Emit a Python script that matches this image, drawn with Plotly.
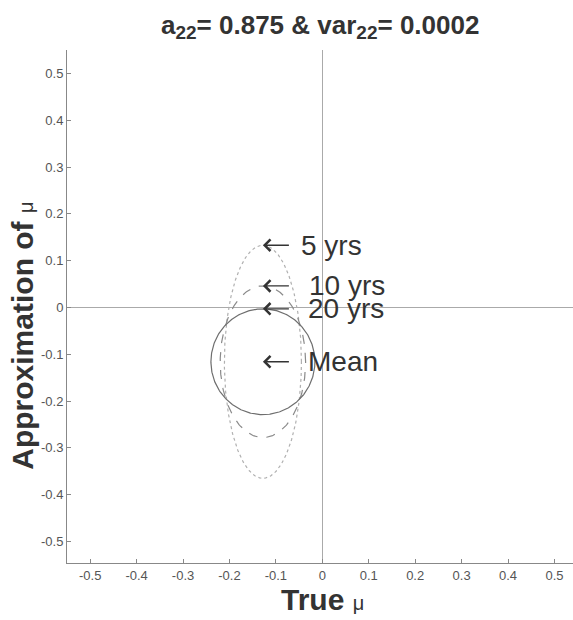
import numpy as np
import plotly.graph_objects as go

# Data
horizons = ["5 yrs", "10 yrs", "20 yrs"]
center_x = -0.128
center_y = -0.116
semi_x = [0.083, 0.092, 0.112]
semi_y = [0.249, 0.162, 0.113]
line_dash = ["dot", "dash", "solid"]
line_color = ["#b0b0b0", "#8a8a8a", "#6e6e6e"]
label_shift = [37, 45, 44]
arrow_gap = [11, 19, 18]
mean_label = "Mean"

x_ticks = [-0.5, -0.4, -0.3, -0.2, -0.1, 0, 0.1, 0.2, 0.3, 0.4, 0.5]
y_ticks = [-0.5, -0.4, -0.3, -0.2, -0.1, 0, 0.1, 0.2, 0.3, 0.4, 0.5]
tick_text = ["-0.5", "-0.4", "-0.3", "-0.2", "-0.1", "0", "0.1", "0.2", "0.3", "0.4", "0.5"]

FONT = "Liberation Sans, Arial, sans-serif"

fig = go.Figure()
t = np.linspace(0, 2 * np.pi, 361)
for i, h in enumerate(horizons):
    fig.add_trace(go.Scatter(
        x=center_x + semi_x[i] * np.cos(t),
        y=center_y + semi_y[i] * np.sin(t),
        mode="lines",
        line=dict(color=line_color[i], width=1.2, dash=line_dash[i]),
        hoverinfo="skip", showlegend=False))

afont = dict(family=FONT, size=28, color="#333333")
anns = []
labels = horizons + [mean_label]
tops = [center_y + s for s in semi_y] + [center_y]
shifts = label_shift + [44]
gaps = arrow_gap + [18]
for lab, ytop, sh, gp in zip(labels, tops, shifts, gaps):
    anns.append(dict(x=center_x, y=ytop, xref="x", yref="y", text=lab,
                     showarrow=True, ax=sh, ay=0, axref="pixel", ayref="pixel",
                     xanchor="left", yanchor="middle", font=afont, borderpad=0,
                     arrowhead=4, arrowsize=1.6, arrowwidth=1.4, arrowcolor="#333333",
                     startstandoff=gp, standoff=0))

# axis titles
anns.append(dict(x=-0.087, y=0.443, xref="paper", yref="paper", textangle=-90,
                 text="<b>Approximation of </b><span style='font-size:20px'>μ</span>",
                 showarrow=False, xanchor="center", yanchor="middle",
                 font=dict(family=FONT, size=30, color="#333333")))
anns.append(dict(x=0.505, y=-0.072, xref="paper", yref="paper",
                 text="<b>True </b><span style='font-size:20px'>μ</span>",
                 showarrow=False, xanchor="center", yanchor="middle",
                 font=dict(family=FONT, size=30, color="#333333")))
# title
anns.append(dict(x=0.5, y=1.0, xref="paper", yref="paper", yshift=24,
                 text="<b>a<sub><span style='font-size:19px'>22</span></sub>= 0.875 &amp; var<sub><span style='font-size:19px'>22</span></sub>= 0.0002</b>",
                 showarrow=False, xanchor="center", yanchor="middle",
                 font=dict(family=FONT, size=26, color="#333333")))

fig.update_layout(
    width=573, height=620,
    margin=dict(l=67, r=0, t=50, b=57),
    paper_bgcolor="white", plot_bgcolor="white",
    annotations=anns,
    xaxis=dict(range=[-0.55, 0.54], tickvals=x_ticks, ticktext=tick_text,
               showgrid=False, zeroline=True, zerolinecolor="#aaaaaa", zerolinewidth=1,
               showline=True, linecolor="#888888", linewidth=1, mirror=False,
               ticks="inside", ticklen=4, tickcolor="#888888",
               tickfont=dict(family=FONT, size=13, color="#555555")),
    yaxis=dict(range=[-0.546, 0.55], tickvals=y_ticks, ticktext=tick_text,
               showgrid=False, zeroline=True, zerolinecolor="#aaaaaa", zerolinewidth=1,
               showline=True, linecolor="#888888", linewidth=1, mirror=False,
               ticks="inside", ticklen=4, tickcolor="#888888",
               tickfont=dict(family=FONT, size=13, color="#555555")),
)

fig.write_html("out.html")
